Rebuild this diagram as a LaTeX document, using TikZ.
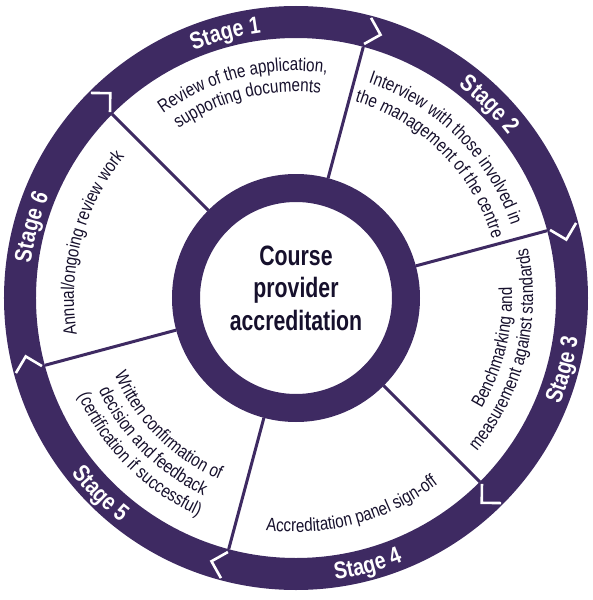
\documentclass[tikz,border=0pt]{standalone}
\usepackage{fontspec}
\setmainfont{Liberation Sans}[FakeStretch=0.82]
\newfontfamily\centrefont{Liberation Sans}[FakeStretch=0.76]
\usepackage{tikz}
\usetikzlibrary{decorations.text}
\usepackage{xcolor}
\definecolor{ring-purple}{RGB}{62,42,98}
\definecolor{ring-text}{RGB}{22,16,44}

% curved text: centre angle, radius, format, text
\newcommand{\cwtext}[4]{%
  \path[decorate, decoration={text along path, text align=center, text={|#3|#4}}]
    (#1+60:#2) arc[start angle=#1+60, end angle=#1-60, radius=#2];}
\newcommand{\ccwtext}[4]{%
  \path[decorate, decoration={text along path, text align=center, text={|#3|#4}}]
    (#1-60:#2) arc[start angle=#1-60, end angle=#1+60, radius=#2];}
\newcommand{\stagefont}{\bfseries\color{white}\fontsize{24}{28}\selectfont}
\newcommand{\stepfont}{\color{ring-text}\fontsize{18.5}{22}\selectfont}

\begin{document}
\begin{tikzpicture}[x=1pt, y=1pt,
    divider/.style={ring-purple, line width=3pt},
    chevron/.style={white, line width=2.6pt}]
  \useasboundingbox (-296,-302) rectangle (296,298);
  % rings
  \fill[ring-purple, even odd rule] (0,0) circle[radius=292] (0,0) circle[radius=260];
  \fill[ring-purple, even odd rule] (0,0) circle[radius=124] (0,0) circle[radius=96];
  \foreach \a in {75,15,-45,-105,-165,135} {
    \draw[divider] (\a:124) -- (\a:260);
    \draw[chevron] (\a:290) -- (\a-2.8:276.5) -- (\a:263);
  }
  \node[align=center, text=ring-text, font=\centrefont\bfseries\fontsize{28}{32.5}\selectfont]
    (centre) at (0,10) {Course\\provider\\accreditation};
  % stage names
  \cwtext{105}{267.5}{\stagefont}{Stage 1}
  \cwtext{45}{267.5}{\stagefont}{Stage 2}
  \ccwtext{-15}{284.5}{\stagefont}{Stage 3}
  \ccwtext{-75}{284.5}{\stagefont}{Stage 4}
  \ccwtext{225}{284.5}{\stagefont}{Stage 5}
  \cwtext{165}{267.5}{\stagefont}{Stage 6}
  % steps
  \cwtext{104}{227}{\stepfont}{Review of the application,}
  \cwtext{104}{206}{\stepfont}{supporting documents}
  \cwtext{45}{227}{\stepfont}{Interview with those involved in}
  \cwtext{45}{205}{\stepfont}{the management of the centre}
  \ccwtext{-14}{216}{\stepfont}{Benchmarking and}
  \ccwtext{-14}{237}{\stepfont}{measurement against standards}
  \ccwtext{-75}{234}{\stepfont}{Accreditation panel sign-off}
  \ccwtext{225}{197}{\stepfont}{Written confirmation of}
  \ccwtext{225}{218}{\stepfont}{decision and feedback}
  \ccwtext{225}{239}{\stepfont}{(certification if successful)}
  \cwtext{165}{222}{\stepfont}{Annual/ongoing review work}
\end{tikzpicture}
\end{document}
